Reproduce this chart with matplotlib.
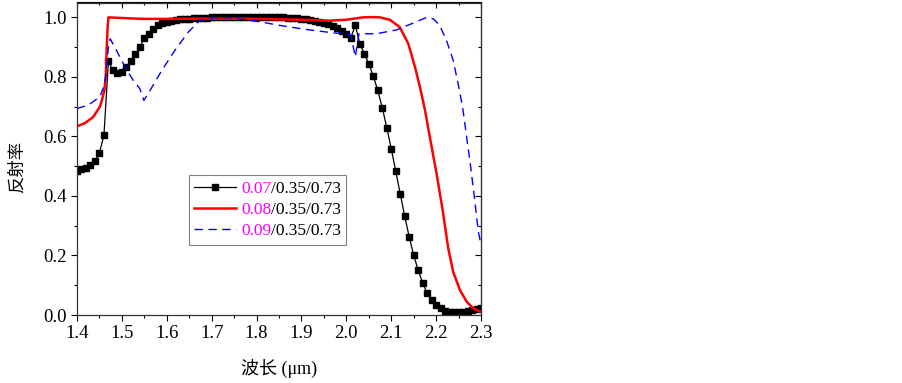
import numpy as np
import matplotlib
matplotlib.use('Agg')
import matplotlib.pyplot as plt
from matplotlib.ticker import MultipleLocator, FormatStrFormatter
from matplotlib.offsetbox import HPacker, TextArea

# 0.07/0.35/0.73 : 每 0.01 um 一个点
x_a = np.linspace(1.40, 2.30, 91)
y_a = [0.485, 0.489, 0.495, 0.503, 0.517, 0.545, 0.604, 0.852, 0.822, 0.813,
       0.816, 0.833, 0.852, 0.876, 0.900, 0.931, 0.945, 0.962, 0.973, 0.980,
       0.985, 0.988, 0.991, 0.993, 0.995, 0.996, 0.997, 0.998, 0.999, 0.999,
       1.000,
       1.000, 1.000, 1.000, 1.000, 1.000, 1.000, 1.000, 1.000, 1.000, 1.000,
       1.000, 1.000, 1.000, 1.000, 1.000, 1.000,
       0.999, 0.998, 0.997, 0.996, 0.994, 0.992, 0.989, 0.985, 0.981, 0.977,
       0.972, 0.963, 0.953, 0.945, 0.932, 0.973, 0.912, 0.878, 0.845, 0.802,
       0.755, 0.697, 0.630, 0.559, 0.484, 0.408, 0.332, 0.263, 0.201, 0.151,
       0.108, 0.073, 0.050, 0.034, 0.022, 0.015, 0.011, 0.010, 0.010, 0.011,
       0.013, 0.016, 0.019, 0.022]

# 0.08/0.35/0.73
x_b = [1.400, 1.418, 1.436, 1.451, 1.456, 1.461, 1.464, 1.466, 1.468, 1.470,
       1.500, 1.544, 1.600, 1.700, 1.800, 1.900, 1.963, 2.000, 2.037, 2.060,
       2.075, 2.097, 2.119, 2.138, 2.153, 2.164, 2.175, 2.186, 2.201, 2.214,
       2.227, 2.238, 2.253, 2.268, 2.283, 2.300]
y_b = [0.634, 0.645, 0.665, 0.700, 0.725, 0.755, 0.800, 0.889, 0.960, 1.000,
       0.998, 0.995, 0.995, 0.996, 0.995, 0.992, 0.989, 0.992, 1.000, 1.001,
       1.000, 0.992, 0.967, 0.912, 0.833, 0.766, 0.690, 0.598, 0.475, 0.358,
       0.224, 0.145, 0.084, 0.045, 0.022, 0.010]

# 0.09/0.35/0.73
x_c = [1.400, 1.425, 1.451, 1.462, 1.470, 1.474, 1.488, 1.507, 1.525, 1.540,
       1.549, 1.563, 1.589, 1.618, 1.648, 1.674, 1.704, 1.741, 1.808, 1.852,
       1.912, 1.971, 2.000, 2.010, 2.020, 2.028, 2.067, 2.112, 2.149, 2.179,
       2.194, 2.208, 2.223, 2.238, 2.249, 2.259, 2.268, 2.277, 2.286, 2.294,
       2.300]
y_c = [0.694, 0.705, 0.733, 0.777, 0.900, 0.928, 0.889, 0.833, 0.789, 0.760,
       0.721, 0.755, 0.822, 0.889, 0.951, 0.990, 0.999, 0.999, 0.985, 0.973,
       0.959, 0.948, 0.945, 0.940, 0.867, 0.945, 0.945, 0.958, 0.981, 1.000,
       0.995, 0.973, 0.923, 0.856, 0.777, 0.699, 0.598, 0.498, 0.386, 0.280,
       0.237]

# 图例: 前半部分品红色, 后半部分黑色
first_part = ['0.07', '0.08', '0.09']
rest_part = '/0.35/0.73'

serif = ['Liberation Serif', 'Noto Sans CJK SC']
cjk = ['Noto Sans CJK SC', 'Liberation Serif']
plt.rcParams['font.family'] = serif

W, H = 903, 383
fig = plt.figure(figsize=(W / 100, H / 100), dpi=100)
ax = fig.add_axes([77 / W, 68 / H, 404 / W, 312.5 / H])

ax.plot(x_a, y_a, color='black', lw=0.9, marker='s', ms=4.8, label=first_part[0])
ax.plot(x_b, y_b, color='#ff0000', lw=1.8, label=first_part[1])
ax.plot(x_c, y_c, color='#0000ff', lw=1.0, linestyle=(0, (6, 4)), label=first_part[2])

ax.set_xlim(1.4, 2.3)
ax.set_ylim(0.0, 1.05)
ax.xaxis.set_major_locator(MultipleLocator(0.1))
ax.xaxis.set_minor_locator(MultipleLocator(0.05))
ax.yaxis.set_major_locator(MultipleLocator(0.2))
ax.yaxis.set_minor_locator(MultipleLocator(0.1))
ax.xaxis.set_major_formatter(FormatStrFormatter('%.1f'))
ax.yaxis.set_major_formatter(FormatStrFormatter('%.1f'))
ax.tick_params(which='both', direction='out', width=0.8, labelsize=13.5, pad=3)
ax.tick_params(which='major', length=4.5)
ax.tick_params(which='minor', length=2.5)
for s in ax.spines.values():
    s.set_linewidth(0.9)
    s.set_color('#333333')

# 上、右两边的刻度朝里
top = ax.secondary_xaxis('top')
top.xaxis.set_major_locator(MultipleLocator(0.1))
top.xaxis.set_minor_locator(MultipleLocator(0.05))
top.tick_params(which='both', direction='in', width=0.8, labeltop=False)
top.tick_params(which='major', length=4.5)
top.tick_params(which='minor', length=2.5)
right = ax.secondary_yaxis('right')
right.yaxis.set_major_locator(MultipleLocator(0.2))
right.yaxis.set_minor_locator(MultipleLocator(0.1))
right.tick_params(which='both', direction='in', width=0.8, labelright=False)
right.tick_params(which='major', length=4.5)
right.tick_params(which='minor', length=2.5)

ax.set_xlabel('波长 (μm)', family=serif, fontsize=13, labelpad=12)
ax.set_ylabel('反射率', family=cjk, fontsize=12.5)
ax.yaxis.set_label_coords(-0.128, 0.474)

fs_leg = 12.5
leg = ax.legend(loc='upper left', bbox_to_anchor=(0.277, 0.447), borderaxespad=0,
                fontsize=fs_leg, numpoints=1, handlelength=2.4, handletextpad=0.3,
                borderpad=0.3, labelspacing=0.3, fancybox=False, framealpha=1)
leg.get_frame().set_edgecolor('#808080')
leg.get_frame().set_linewidth(0.8)
for t in leg.get_texts():
    t.set_color('#ff00ff')

# 每行在品红数字后接上黑色的 "/0.35/0.73"
for col in leg._legend_handle_box.get_children():
    for row in col.get_children():
        kids = row.get_children()
        kids[1] = HPacker(children=[kids[1],
                                    TextArea(rest_part, textprops=dict(fontsize=fs_leg, color='black'))],
                          pad=0, sep=0, align='baseline')
leg._legend_box.set_figure(fig)

fig.savefig('out.png', dpi=100)
